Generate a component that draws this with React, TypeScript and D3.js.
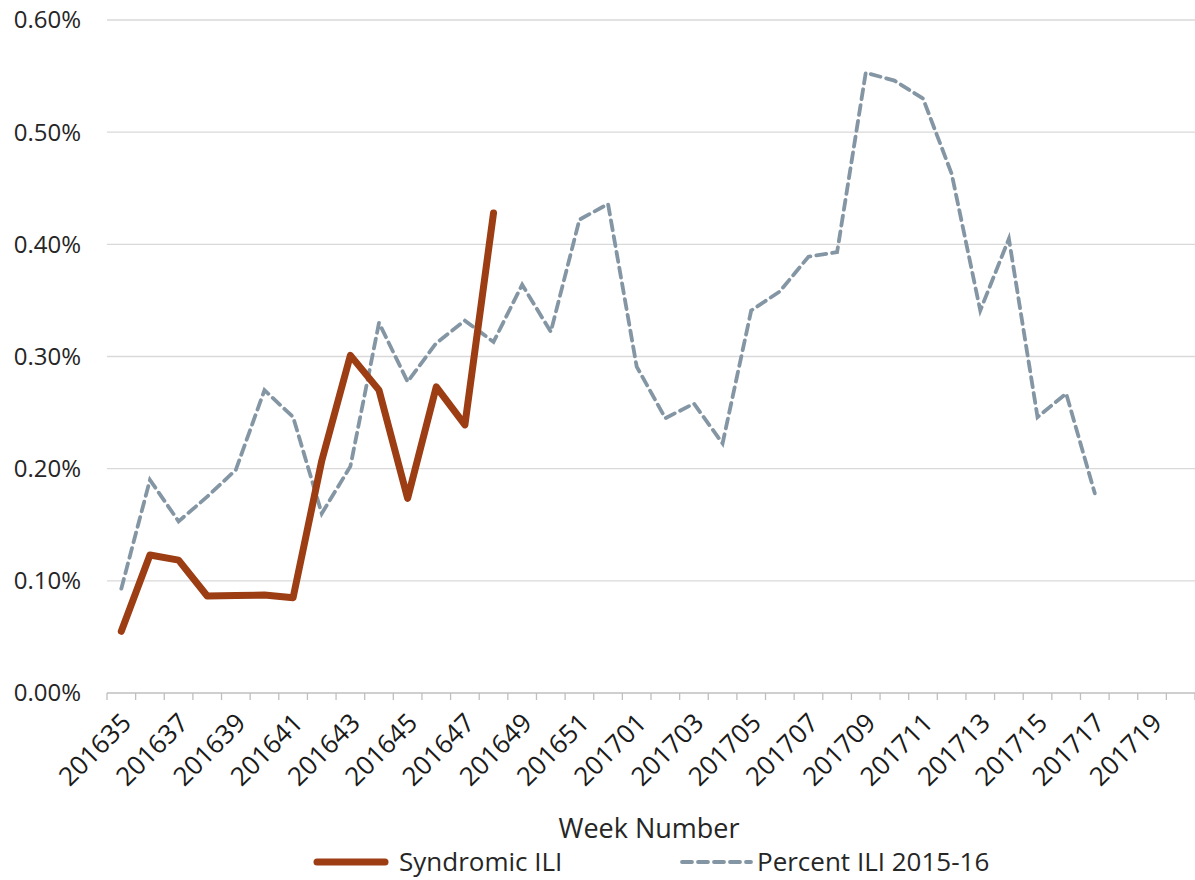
import React, { useEffect, useRef } from 'react';
import * as d3 from 'd3';

const weeks = [
  '201635', '201636', '201637', '201638', '201639', '201640', '201641', '201642', '201643',
  '201644', '201645', '201646', '201647', '201648', '201649', '201650', '201651', '201652',
  '201701', '201702', '201703', '201704', '201705', '201706', '201707', '201708', '201709',
  '201710', '201711', '201712', '201713', '201714', '201715', '201716', '201717', '201718',
  '201719', '201720',
];

// percent values by week (series stop where data ends)
const syndromicILI = [
  0.055, 0.123, 0.1185, 0.0865, 0.087, 0.0873, 0.085, 0.207, 0.301, 0.27, 0.1735, 0.273,
  0.239, 0.428,
];

const percentILI = [
  0.093, 0.19, 0.153, 0.175, 0.199, 0.27, 0.246, 0.16, 0.202, 0.33, 0.2775, 0.312, 0.332,
  0.313, 0.364, 0.322, 0.422, 0.436, 0.291, 0.245, 0.258, 0.2225, 0.341, 0.358, 0.389,
  0.393, 0.553, 0.546, 0.53, 0.463, 0.341, 0.405, 0.246, 0.267, 0.178,
];

const yTicks = [0, 0.1, 0.2, 0.3, 0.4, 0.5, 0.6];

const FONT = "'Century Gothic', 'Open Sans', sans-serif";

export default function App() {
  const ref = useRef<SVGSVGElement>(null);

  useEffect(() => {
    const svg = d3.select(ref.current);
    svg.selectAll('*').remove();

    const left = 107, right = 1195, top = 20, bottom = 693;
    const x = d3.scaleBand().domain(weeks).range([left, right]);
    const y = d3.scaleLinear().domain([0, 0.6]).range([bottom, top]);
    const cx = (w: string) => (x(w) as number) + x.bandwidth() / 2;

    // gridlines
    svg.append('g').selectAll('line').data(yTicks.filter(t => t > 0)).join('line')
      .attr('x1', left).attr('x2', right)
      .attr('y1', d => y(d)).attr('y2', d => y(d))
      .attr('stroke', '#d9d9d9').attr('stroke-width', 1.3);

    // y labels
    svg.append('g').selectAll('text').data(yTicks).join('text')
      .attr('x', 81).attr('y', d => y(d)).attr('dy', '0.35em')
      .attr('text-anchor', 'end')
      .style('font-family', FONT).style('font-size', '24px').style('fill', '#262626')
      .text(d => d3.format('.2f')(d) + '%');

    // x axis
    const xa = svg.append('g');
    xa.append('line').attr('x1', left).attr('x2', right).attr('y1', bottom).attr('y2', bottom)
      .attr('stroke', '#bfbfbf').attr('stroke-width', 1.3);
    const bounds = weeks.map(w => x(w) as number).concat([right]);
    xa.selectAll('.tk').data(bounds).join('line').attr('class', 'tk')
      .attr('x1', d => d).attr('x2', d => d).attr('y1', bottom).attr('y2', bottom + 7)
      .attr('stroke', '#bfbfbf').attr('stroke-width', 1.3);
    xa.selectAll('text').data(weeks.filter((_, i) => i % 2 === 0)).join('text')
      .attr('transform', d => `translate(${cx(d) + 5},${bottom + 25}) rotate(-45)`)
      .attr('text-anchor', 'end').attr('dy', '0.35em')
      .style('font-family', FONT).style('font-size', '26px').style('fill', '#1a1a1a')
      .text(d => d);

    svg.append('text').attr('x', 649).attr('y', 838).attr('text-anchor', 'middle')
      .style('font-family', FONT).style('font-size', '27px').style('fill', '#262626')
      .text('Week Number');

    const line = d3.line<number>()
      .x((_, i) => cx(weeks[i]))
      .y(d => y(d));

    svg.append('path').datum(percentILI).attr('d', line)
      .attr('fill', 'none').attr('stroke', '#8496a4').attr('stroke-width', 3.8)
      .attr('stroke-dasharray', '10,6').attr('stroke-linecap', 'round');

    svg.append('path').datum(syndromicILI).attr('d', line)
      .attr('fill', 'none').attr('stroke', '#9c3d14').attr('stroke-width', 7)
      .attr('stroke-linejoin', 'round').attr('stroke-linecap', 'round');

    // legend
    const lg = svg.append('g');
    lg.append('line').attr('x1', 317).attr('x2', 385).attr('y1', 862).attr('y2', 862)
      .attr('stroke', '#9c3d14').attr('stroke-width', 7).attr('stroke-linecap', 'round');
    lg.append('text').attr('x', 399).attr('y', 862).attr('dy', '0.35em')
      .style('font-family', FONT).style('font-size', '26px').style('fill', '#262626')
      .text('Syndromic ILI');
    lg.append('line').attr('x1', 682).attr('x2', 751).attr('y1', 862).attr('y2', 862)
      .attr('stroke', '#8496a4').attr('stroke-width', 3.8)
      .attr('stroke-dasharray', '10,6').attr('stroke-linecap', 'round');
    lg.append('text').attr('x', 757).attr('y', 862).attr('dy', '0.35em')
      .style('font-family', FONT).style('font-size', '26px').style('fill', '#262626')
      .text('Percent ILI 2015-16');
  }, []);

  return (
    <svg ref={ref} width={1195} height={880}
      style={{ position: 'absolute', left: 0, top: 0, background: '#fff' }} />
  );
}
